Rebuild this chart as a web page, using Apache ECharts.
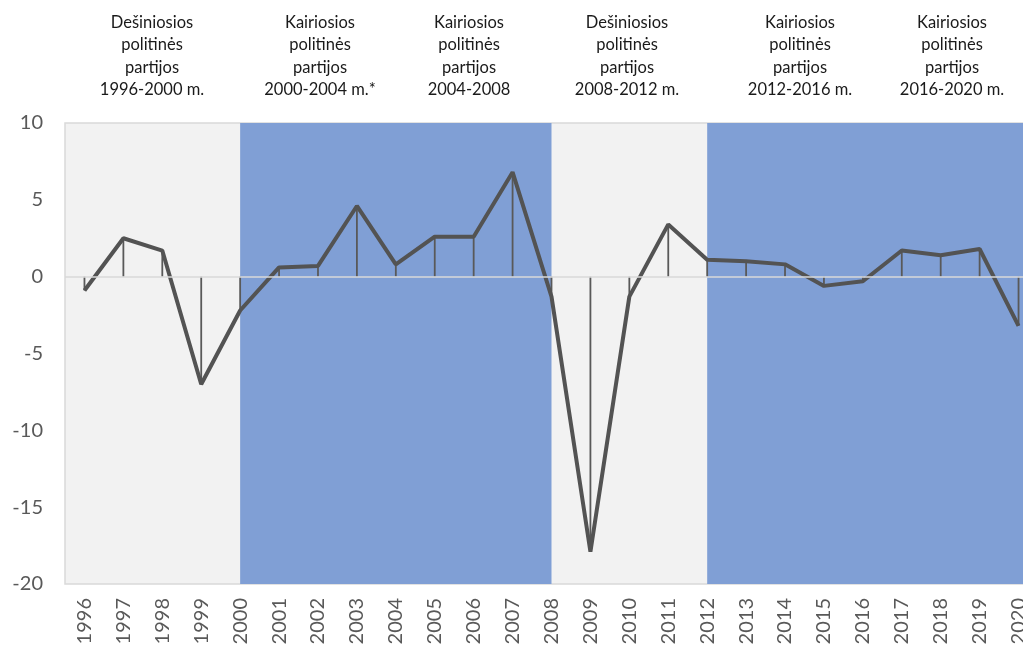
<!DOCTYPE html>
<html>
<head>
<meta charset="utf-8">
<script src="https://cdn.jsdelivr.net/npm/echarts@6/dist/echarts.min.js"></script>
<style>
  html, body { margin: 0; padding: 0; background: #fff; }
  #chart { width: 1023px; height: 650px; }
</style>
</head>
<body>
<div id="chart"></div>
<script>
const years = ['1996', '1997', '1998', '1999', '2000', '2001', '2002', '2003', '2004', '2005', '2006', '2007', '2008',
  '2009', '2010', '2011', '2012', '2013', '2014', '2015', '2016', '2017', '2018', '2019', '2020']
const growth = [-0.9, 2.5, 1.7, -7.0, -2.2, 0.6, 0.7, 4.6, 0.8, 2.6, 2.6, 6.8, -1.3,
  -17.9, -1.3, 3.4, 1.1, 1.0, 0.8, -0.6, -0.3, 1.7, 1.4, 1.8, -3.2]
// periods shaded blue (left-wing governments); null = to the edge of the plot
const bluePeriods = [['2000', '2008'], ['2012', null]]
const periodLabels = [
  'Dešiniosios\npolitinės\npartijos\n1996-2000 m.',
  'Kairiosios\npolitinės\npartijos\n2000-2004 m.*',
  'Kairiosios\npolitinės\npartijos\n2004-2008',
  'Dešiniosios\npolitinės\npartijos\n2008-2012 m.',
  'Kairiosios\npolitinės\npartijos\n2012-2016 m.',
  'Kairiosios\npolitinės\npartijos\n2016-2020 m.'
]
const labelX = [152, 320, 469, 627, 800, 952]

const font = 'Lato, "Open Sans", sans-serif'
const chart = echarts.init(document.getElementById('chart'))

const option = {
  backgroundColor: '#fff',
  animation: false,
  grid: {
    left: 65,
    top: 123,
    width: 973,
    height: 461,
    outerBoundsMode: 'none',
    show: true,
    backgroundColor: '#f2f2f2',
    borderColor: '#d9d9d9',
    borderWidth: 1.5
  },
  graphic: periodLabels.map((t, i) => ({
    type: 'text',
    x: labelX[i],
    y: 11,
    style: {
      text: t,
      textAlign: 'center',
      fill: '#1a1a1a',
      font: '16.5px ' + font,
      lineHeight: 22.5
    }
  })),
  xAxis: {
    type: 'category',
    data: years,
    boundaryGap: true,
    z: 1.5,
    axisLine: { show: false },
    axisTick: { show: false },
    axisLabel: {
      rotate: 90,
      margin: 14,
      fontSize: 20,
      fontFamily: font,
      color: '#595959'
    },
    splitLine: { show: false }
  },
  yAxis: {
    type: 'value',
    min: -20,
    max: 10,
    interval: 5,
    axisLine: { show: false },
    axisTick: { show: false },
    splitLine: { show: false },
    axisLabel: {
      margin: 22,
      fontSize: 20,
      fontFamily: font,
      color: '#595959'
    }
  },
  series: [
    {
      type: 'line',
      data: growth,
      z: 1,
      silent: true,
      showSymbol: false,
      lineStyle: { width: 0, opacity: 0 },
      markArea: {
        silent: true,
        itemStyle: { color: '#809fd5', opacity: 1 },
        data: bluePeriods.map(p => [
          { xAxis: p[0] },
          p[1] ? { xAxis: p[1] } : {}
        ])
      }
    },
    {
      type: 'bar',
      data: growth,
      z: 2,
      barWidth: 1.8,
      silent: true,
      itemStyle: { color: '#595959' },
      markLine: {
        silent: true,
        symbol: 'none',
        label: { show: false },
        lineStyle: { color: '#d9d9d9', type: 'solid', width: 1.5 },
        data: [{ yAxis: 0 }]
      }
    },
    {
      type: 'line',
      data: growth,
      z: 3,
      showSymbol: false,
      symbol: 'none',
      lineStyle: { color: '#535353', width: 4 }
    }
  ]
}

chart.setOption(option)
</script>
</body>
</html>
